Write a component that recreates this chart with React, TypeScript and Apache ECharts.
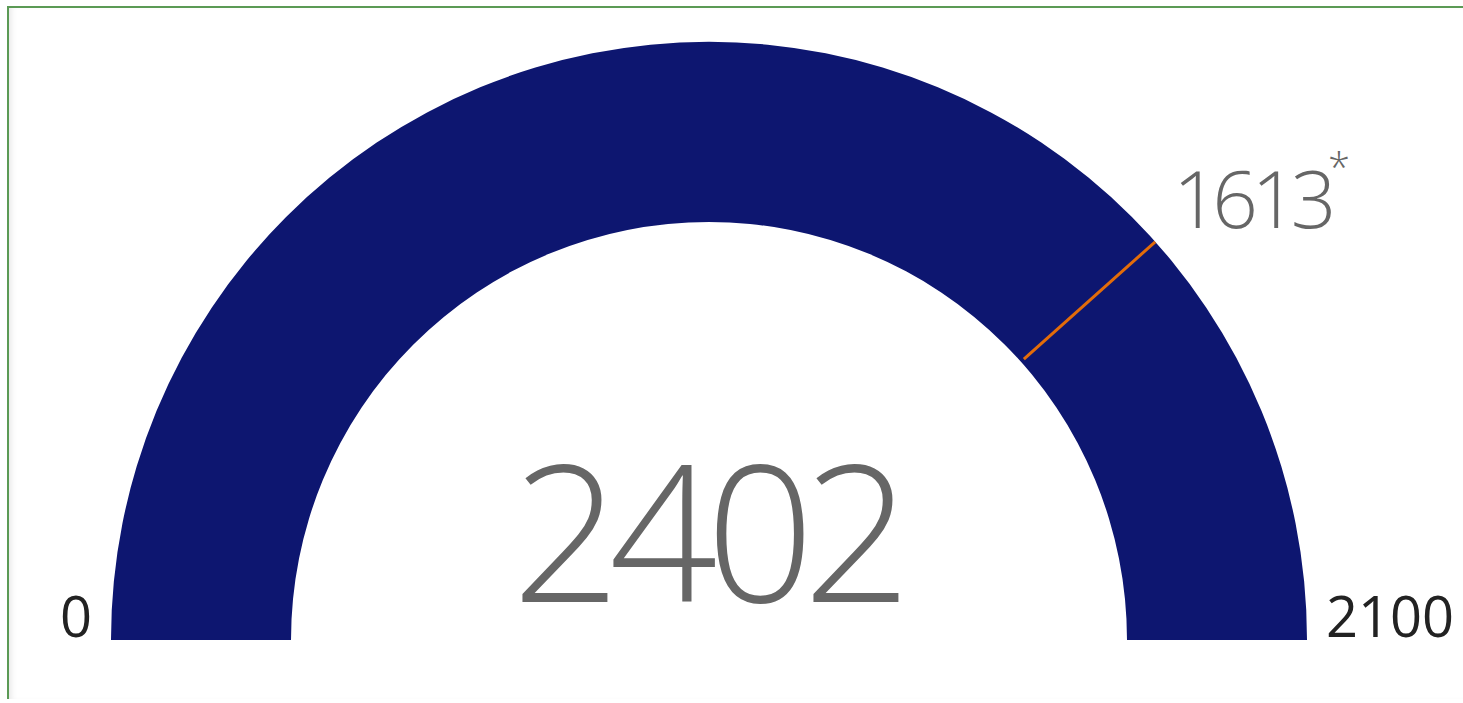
import React, { useEffect, useRef } from "react";
import * as echarts from "echarts";

const gaugeMin = 0;
const gaugeMax = 2100;
const actualValue = 2402;
const targetValue = 1613;
const targetSuffix = "*";

const FONT = "'Open Sans', sans-serif";

export default function App() {
  const ref = useRef<HTMLDivElement>(null);
  useEffect(() => {
    document.body.style.margin = "0";
    const chart = echarts.init(ref.current!, null, { renderer: "svg" });
    const cx = 709;
    const cy = 640;
    const R = 598;
    const band = 180;
    const targetAngle = 180 - (180 * (targetValue - gaugeMin)) / (gaugeMax - gaugeMin);
    chart.setOption({
      animation: false,
      series: [
        {
          type: "gauge",
          center: [cx, cy],
          radius: R,
          startAngle: 180,
          endAngle: 0,
          min: gaugeMin,
          max: gaugeMax,
          splitNumber: 1,
          axisLine: { lineStyle: { width: band, color: [[1, "#0d1670"]] } },
          progress: { show: false },
          pointer: { show: false },
          anchor: { show: false },
          axisTick: { show: false },
          splitLine: { show: false, length: 0, distance: 0 },
          axisLabel: {
            distance: -179,
            formatter: (v: number) => (v === gaugeMin ? `{l|${v}}` : `{r|${v}}`),
            rich: {
              l: { width: 160, align: "right", fontSize: 56, color: "#222", fontFamily: FONT, padding: [0, 0, 50, 0] },
              r: { width: 160, align: "left", fontSize: 56, color: "#222", fontFamily: FONT, padding: [0, 0, 50, 0] },
            },
          },
          title: { show: false },
          detail: {
            offsetCenter: [-3, -112],
            fontSize: 190,
            color: "#666",
            fontWeight: 300,
            fontFamily: FONT,
            formatter: "{value}",
          },
          data: [{ value: actualValue }],
        },
        {
          type: "gauge",
          center: [cx, cy],
          radius: R,
          startAngle: 180,
          endAngle: targetAngle,
          min: gaugeMin,
          max: targetValue,
          splitNumber: 1,
          axisLine: { show: false, lineStyle: { width: 0, color: [[0.5, "transparent"], [1, "#e36c09"]] } },
          progress: { show: false },
          pointer: { show: false },
          anchor: { show: false },
          axisTick: { show: false },
          splitLine: { show: true, length: 176, distance: 0, lineStyle: { color: "auto", width: 3 } },
          axisLabel: {
            distance: -433,
            width: 174,
            formatter: (v: number) => (v === targetValue ? `{a|${v}}{s|${targetSuffix}}` : ""),
            rich: {
              a: { align: "left", fontSize: 80, color: "#666", fontWeight: 300, fontFamily: FONT, padding: [252, 0, 0, 0] },
              s: { align: "right", fontSize: 40, color: "#666", fontWeight: 300, fontFamily: FONT, padding: [192, 0, 0, 0] },
            },
          },
          title: { show: false },
          detail: { show: false },
          data: [{ value: targetValue }],
        },
      ],
    });
    return () => chart.dispose();
  }, []);
  return (
    <div style={{ position: "absolute", left: 0, top: 0, width: 1463, height: 703, background: "#fff" }}>
      <style>{`.gauge-chart text[style*="font-weight: 300"], .gauge-chart text[style*="font-weight:300"] { letter-spacing: -0.08em; }
.gauge-chart text[style*="font-size: 190px"], .gauge-chart text[style*="font-size:190px"] { letter-spacing: -0.06em; }`}</style>
      <div ref={ref} className="gauge-chart" style={{ position: "absolute", left: 0, top: 0, width: 1463, height: 703 }} />
      <div
        style={{
          position: "absolute",
          left: 7,
          top: 6,
          right: 0,
          bottom: 4,
          borderTop: "2px solid #5b9a55",
          borderLeft: "2px solid #5b9a55",
          boxShadow: "inset 6px 0 6px -4px #e6e6e6",
          pointerEvents: "none",
        }}
      />
    </div>
  );
}
